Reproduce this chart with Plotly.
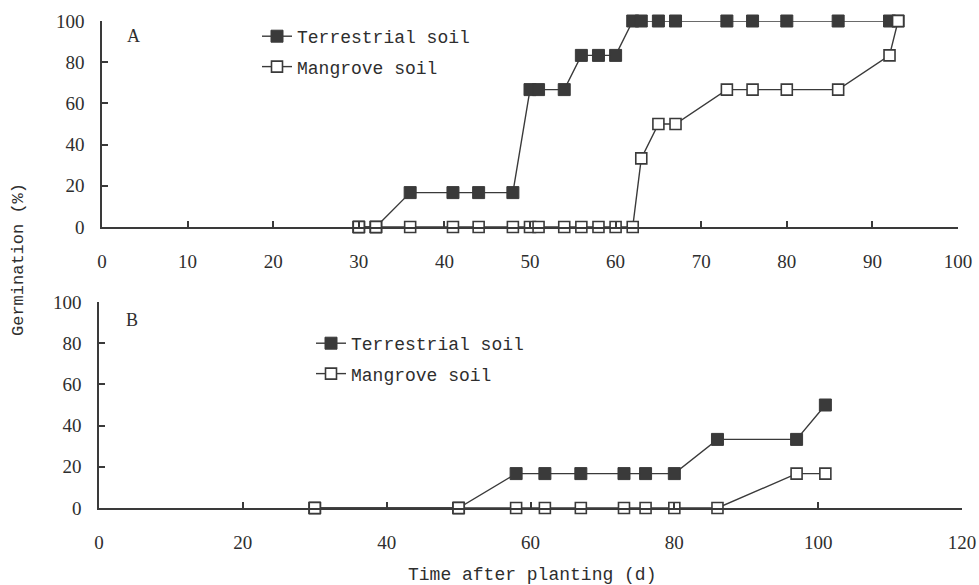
import plotly.graph_objects as go

# ---- Data ----
# Panel A
a_days = [30, 32, 36, 41, 44, 48, 50, 51, 54, 56, 58, 60, 62, 63, 65, 67, 73, 76, 80, 86, 92, 93]
a_terrestrial = [0, 0, 16.7, 16.7, 16.7, 16.7, 66.7, 66.7, 66.7, 83.3, 83.3, 83.3,
                 100, 100, 100, 100, 100, 100, 100, 100, 100, 100]
a_mangrove = [0, 0, 0, 0, 0, 0, 0, 0, 0, 0, 0, 0, 0, 33.3, 50, 50, 66.7, 66.7, 66.7, 66.7, 83.3, 100]

# Panel B
b_days = [30, 50, 58, 62, 67, 73, 76, 80, 86, 97, 101]
b_terrestrial = [0, 0, 16.7, 16.7, 16.7, 16.7, 16.7, 16.7, 33.3, 33.3, 50]
b_mangrove = [0, 0, 0, 0, 0, 0, 0, 0, 0, 16.7, 16.7]

a_xticks = [0, 10, 20, 30, 40, 50, 60, 70, 80, 90, 100]
b_xticks = [0, 20, 40, 60, 80, 100, 120]
y_ticks = [0, 20, 40, 60, 80, 100]

names = ["Terrestrial soil", "Mangrove soil"]

W, H = 979, 585


def px(x):
    return x / W


def py(y):
    return 1 - y / H


DARK = "#3a3a3a"
TXT = "#2e2e2e"
MONO = "Liberation Mono"
SERIF = "Liberation Serif, Times New Roman, serif"

fig = go.Figure()

filled = dict(symbol="square", size=12, color=DARK, line=dict(color=DARK, width=1))
opened = dict(symbol="square", size=11, color="white", line=dict(color=DARK, width=1.6))

fig.add_trace(go.Scatter(x=a_days, y=a_terrestrial, mode="lines+markers", name=names[0],
                         line=dict(color=DARK, width=1.4), marker=filled, cliponaxis=False,
                         xaxis="x", yaxis="y", legend="legend", legendgroup="a1"))
fig.add_trace(go.Scatter(x=a_days, y=a_mangrove, mode="lines+markers", name=names[1],
                         line=dict(color=DARK, width=1.4), marker=opened, cliponaxis=False,
                         xaxis="x", yaxis="y", legend="legend", legendgroup="a2"))
fig.add_trace(go.Scatter(x=b_days, y=b_terrestrial, mode="lines+markers", name=names[0],
                         line=dict(color=DARK, width=1.4), marker=filled, cliponaxis=False,
                         xaxis="x2", yaxis="y2", legend="legend2", legendgroup="b1"))
fig.add_trace(go.Scatter(x=b_days, y=b_mangrove, mode="lines+markers", name=names[1],
                         line=dict(color=DARK, width=1.4), marker=opened, cliponaxis=False,
                         xaxis="x2", yaxis="y2", legend="legend2", legendgroup="b2"))


def xax(domain, anchor, rng, ticks):
    return dict(domain=domain, anchor=anchor, range=rng, tickmode="array", tickvals=ticks,
                ticks="inside", ticklen=6, tickwidth=1.5, tickcolor=DARK,
                showline=True, linecolor=DARK, linewidth=1.5, showgrid=False, zeroline=False,
                tickfont=dict(family=SERIF, size=19, color=TXT), ticklabelstandoff=16,
                automargin=False, fixedrange=True)


def yax(domain, anchor):
    return dict(domain=domain, anchor=anchor, range=[0, 100], tickmode="array", tickvals=y_ticks,
                ticks="inside", ticklen=6, tickwidth=1.5, tickcolor=DARK,
                showline=True, linecolor=DARK, linewidth=1.5, showgrid=False, zeroline=False,
                tickfont=dict(family=SERIF, size=19, color=TXT), ticklabelstandoff=12,
                automargin=False, fixedrange=True)


legfont = dict(family=MONO, size=18, color=TXT)


def label(text, x, y, font, angle=0):
    return dict(text=text, x=px(x), y=py(y), xref="paper", yref="paper", showarrow=False,
                xanchor="center", yanchor="middle", textangle=angle, font=font)


fig.update_layout(
    width=W, height=H,
    margin=dict(l=0, r=0, t=0, b=0, pad=0, autoexpand=False),
    paper_bgcolor="white", plot_bgcolor="white",
    hovermode=False,
    xaxis=xax([px(102), px(958)], "y", [0, 100], a_xticks),
    yaxis=yax([py(227), py(21)], "x"),
    xaxis2=xax([px(99), px(962)], "y2", [0, 120], b_xticks),
    yaxis2=yax([py(508), py(302)], "x2"),
    legend=dict(x=px(298 - 41), y=py(18), xanchor="left", yanchor="top",
                font=legfont, bgcolor="rgba(0,0,0,0)", traceorder="grouped",
                tracegroupgap=4, itemclick=False, itemdoubleclick=False),
    legend2=dict(x=px(352 - 41), y=py(325), xanchor="left", yanchor="top",
                 font=legfont, bgcolor="rgba(0,0,0,0)", traceorder="grouped",
                 tracegroupgap=4, itemclick=False, itemdoubleclick=False),
    showlegend=True,
    annotations=[
        label("A", 133, 36, dict(family=SERIF, size=18, color=TXT)),
        label("B", 132, 320, dict(family=SERIF, size=18, color=TXT)),
        label("Germination (%)", 18, 260, dict(family=MONO, size=17, color=TXT), angle=-90),
        label("Time after planting (d)", 532, 575, dict(family=MONO, size=18, color=TXT)),
    ],
)

fig.write_html("out.html",
               config={"displayModeBar": False, "staticPlot": False},
               post_script="document.body.style.margin='0px';document.body.style.overflow='hidden';")
